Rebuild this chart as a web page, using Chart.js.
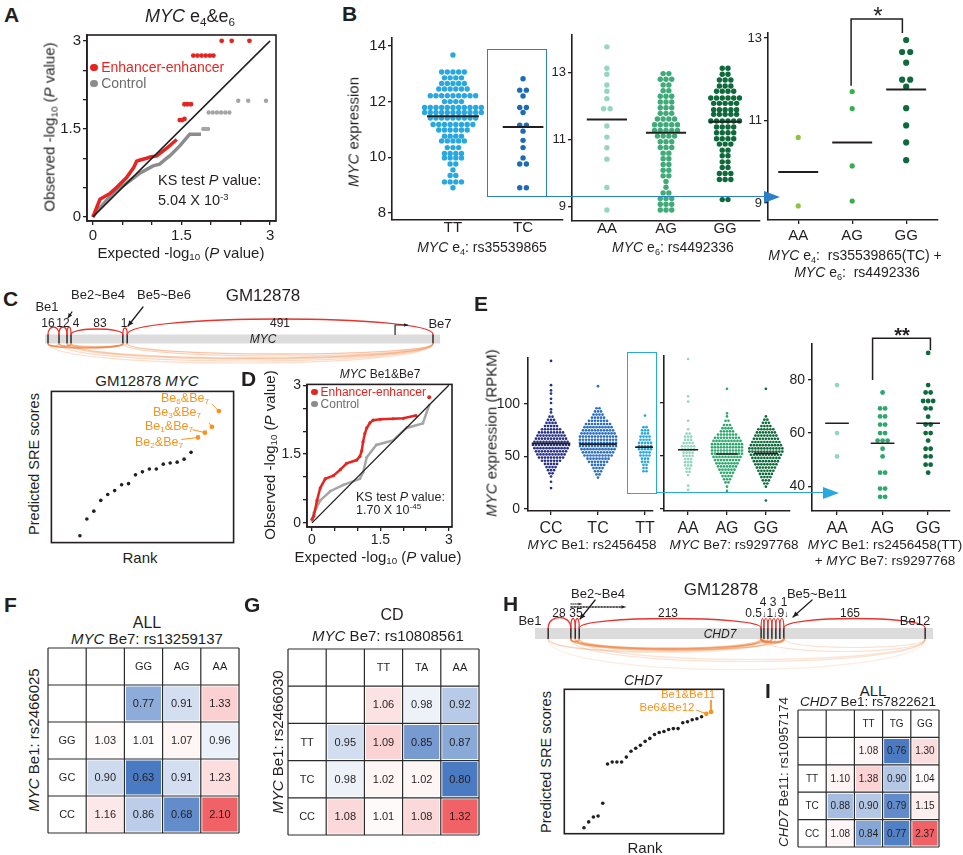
<!DOCTYPE html>
<html lang="en">
<head>
<meta charset="UTF-8">
<title>MYC / CHD7 enhancer pairs</title>
<script src="https://cdn.jsdelivr.net/npm/chart.js"></script>
<style>
  html, body { margin: 0; padding: 0; background: #fff; }
  #fig { position: relative; width: 963px; height: 855px; overflow: hidden; font-family: "Liberation Sans", Arial, Helvetica, sans-serif; color: #231f20; }
  #fig canvas { position: absolute; }
  .t { position: absolute; white-space: nowrap; line-height: 1; }
  .t sub, .t sup { font-size: 0.65em; line-height: 0; }
  .t sub { vertical-align: -0.3em; }
  .t sup { vertical-align: 0.55em; }
  .dot { display: inline-block; width: 0.55em; height: 0.55em; border-radius: 50%; margin-right: 0.25em; vertical-align: 0.05em; }
  .hl { position: absolute; box-sizing: border-box; }
</style>
</head>
<body>
<div id="fig"></div>
<script>
// ---------- data ----------

// A: QQ plot, MYC e4&e6
const qqTicks = [0, 0.5, 1, 1.5, 2, 2.5, 3];
const qqLabels = ['0', '', '', '1.5', '', '', '3'];
const aRedLineX = [0, 0.12, 0.29, 0.40, 0.57, 0.69, 0.74, 0.80, 0.91, 0.97, 1.08, 1.25, 1.42];
const aRedLineY = [0, 0.30, 0.40, 0.50, 0.67, 0.84, 0.95, 0.97, 1.00, 1.02, 1.04, 1.17, 1.32];
const aRedDotX = [1.47, 1.51, 1.55, 1.55, 1.60, 1.66, 1.70, 1.77, 1.84, 1.91, 1.98, 2.04, 2.18, 2.35, 2.65];
const aRedDotY = [1.65, 1.65, 1.67, 1.92, 1.92, 1.92, 2.75, 2.75, 2.75, 2.75, 2.75, 2.75, 3.0, 3.0, 3.0];
const aGrayLineX = [0, 0.07, 0.34, 0.63, 0.80, 1.02, 1.13, 1.25, 1.30, 1.47, 1.64, 1.83];
const aGrayLineY = [0, 0.10, 0.40, 0.62, 0.75, 0.87, 0.90, 1.00, 1.04, 1.21, 1.41, 1.41];
const aGrayDotX = [1.87, 1.91, 1.95, 1.96, 2.03, 2.10, 2.17, 2.24, 2.31, 2.46, 2.63, 2.93];
const aGrayDotY = [1.50, 1.50, 1.50, 1.78, 1.78, 1.78, 1.78, 1.78, 1.78, 1.98, 1.98, 1.98];

// B: MYC expression by genotype (levels of the dot rows and number of dots per row)
const bTTLevels = [13.67, 13.06, 12.85, 12.65, 12.45, 12.21, 12.0, 11.79, 11.61, 11.41, 11.18, 10.98, 10.76, 10.59, 10.35, 10.14, 9.98, 9.76, 9.55, 9.35, 9.12, 8.91];
const bTTCounts = [1, 5, 4, 5, 6, 9, 4, 11, 11, 9, 8, 6, 4, 5, 3, 4, 4, 2, 1, 2, 4, 1];
const bTCLevels = [12.82, 12.41, 12.2, 11.79, 11.61, 11.15, 10.94, 10.61, 10.35, 9.98, 9.76, 8.91];
const bTCCounts = [1, 2, 1, 2, 1, 2, 1, 1, 1, 1, 2, 2];
const bLeftMeans = [11.47, 11.09];
const bAALevels = [13.77, 13.13, 12.95, 12.63, 12.44, 12.22, 11.92, 11.4, 11.07, 10.75, 10.41, 9.56, 8.89];
const bAACounts = [1, 1, 1, 1, 1, 1, 2, 1, 1, 1, 1, 1, 1];
const bAGLevels = [12.97, 12.80, 12.63, 12.46, 12.29, 12.12, 11.95, 11.78, 11.61, 11.44, 11.27, 11.10, 10.93, 10.76, 10.59, 10.42, 10.25, 10.08, 9.91, 9.74, 9.57, 9.40, 9.23, 9.06, 8.89];
const bAGCounts = [2, 3, 2, 2, 3, 3, 3, 3, 4, 5, 5, 4, 3, 3, 2, 2, 2, 2, 2, 1, 1, 2, 3, 3, 3];
const bGGLevels = [13.13, 12.95, 12.78, 12.6, 12.44, 12.24, 12.08, 11.89, 11.75, 11.55, 11.37, 11.2, 11.02, 10.86, 10.68, 10.51, 10.33, 10.16, 9.98, 9.8, 9.2];
const bGGCounts = [2, 2, 3, 3, 4, 6, 5, 5, 5, 6, 4, 4, 4, 3, 2, 2, 2, 2, 3, 3, 2];
const bMidMeans = [11.6, 11.2, 11.53];
const bRAALevels = [10.59, 8.93];
const bRAACounts = [1, 1];
const bRAGLevels = [11.7, 11.29, 9.9, 9.05];
const bRAGCounts = [1, 1, 1, 1];
const bRGGLevels = [12.95, 12.66, 12.4, 11.99, 11.82, 11.3, 10.88, 10.47, 10.04];
const bRGGCounts = [1, 2, 1, 2, 1, 1, 1, 1, 1];
const bRightMeans = [9.75, 10.47, 11.75];

// C: predicted SRE scores, GM12878 MYC (rank order; last four highlighted)
const cScores = [4.5, 15.6, 20.8, 27.9, 31.8, 34.4, 38.3, 39.0, 44.8, 46.8, 48.7, 48.7, 51.9, 52.6, 53.2, 55.2, 59.7, 69.5, 72.7, 76.6, 87.0];
const cHighlight = 4;

// D: QQ plot, MYC Be1&Be7
const dRedX = [0, 0.04, 0.11, 0.18, 0.29, 0.47, 0.62, 0.76, 0.98, 1.05, 1.09, 1.12, 1.16, 1.20, 1.27, 1.34, 1.50, 1.78, 2.0, 2.28];
const dRedY = [0.08, 0.15, 0.49, 0.76, 0.96, 1.03, 1.16, 1.30, 1.37, 1.45, 1.57, 1.77, 1.95, 2.07, 2.18, 2.24, 2.26, 2.27, 2.28, 2.34];
const dRedDotX = [2.57];
const dRedDotY = [2.74];
const dGrayX = [0, 0.04, 0.18, 0.40, 0.69, 1.05, 1.12, 1.20, 1.41, 1.78, 2.07, 2.43, 2.57];
const dGrayY = [0.05, 0.22, 0.49, 0.69, 0.83, 0.96, 1.10, 1.43, 1.70, 1.80, 2.07, 2.17, 2.57];

// E: MYC expression (RPKM) by genotype
const eCCLevels = [141, 118, 113, 110, 105, 101, 95, 92, 88, 85, 82, 79, 76, 73, 70, 67, 64, 61, 58, 55, 52, 49, 46, 43, 40, 37, 34, 31, 26, 20];
const eCCCounts = [1, 1, 1, 1, 1, 1, 1, 1, 2, 3, 4, 5, 7, 9, 10, 11, 12, 13, 12, 11, 10, 9, 7, 5, 4, 3, 2, 1, 1, 1];
const eTCLevels = [117, 96, 93, 90, 87, 84, 81, 78, 75, 72, 69, 66, 63, 60, 57, 54, 51, 48, 45, 42, 39, 36, 33, 30];
const eTCCounts = [1, 2, 3, 4, 5, 7, 9, 10, 11, 12, 13, 13, 13, 13, 12, 11, 10, 8, 7, 5, 4, 3, 2, 1];
const eTTLevels = [89, 78, 75, 72, 69, 66, 63, 60, 57, 54, 51, 48, 45, 42, 39, 36];
const eTTCounts = [1, 2, 3, 3, 4, 4, 5, 5, 5, 4, 4, 3, 3, 2, 2, 2];
const eLeftMeans = [62.5, 61.8, 59];
const eAALevels = [141, 106, 101, 83, 75, 71, 68, 65, 62, 59, 56, 53, 50, 47, 44, 41, 38, 35, 32, 22, 18];
const eAACounts = [1, 1, 1, 1, 1, 2, 3, 3, 4, 5, 5, 4, 4, 3, 3, 3, 2, 2, 1, 1, 1];
const eAGLevels = [113, 90, 87, 83, 79, 76, 73, 70, 67, 64, 61, 58, 55, 52, 49, 46, 43, 40, 37, 34, 31, 28, 25, 21, 17];
const eAGCounts = [1, 1, 1, 2, 3, 4, 5, 7, 9, 10, 11, 11, 11, 11, 10, 9, 8, 7, 6, 5, 4, 3, 2, 1, 1];
const eGGLevels = [113, 87, 84, 81, 78, 75, 72, 69, 66, 63, 60, 57, 54, 51, 48, 45, 42, 39, 36, 33, 30, 27, 24, 21, 8];
const eGGCounts = [1, 1, 2, 3, 4, 6, 7, 8, 9, 10, 11, 12, 12, 11, 10, 9, 8, 7, 6, 5, 4, 3, 2, 1, 1];
const eMidMeans = [55.7, 51.7, 52.3];
const eRAALevels = [78.1, 60, 51.2];
const eRAACounts = [1, 1, 1];
const eRAGLevels = [75.3, 69.3, 66.3, 63.2, 60, 57.2, 54.1, 51.2, 45.1, 39.1, 36];
const eRAGCounts = [1, 2, 2, 2, 2, 3, 1, 1, 2, 2, 2];
const eRGGLevels = [90.2, 78.1, 75.3, 72.1, 69.3, 66.2, 63.2, 60, 57.2, 54.1, 51.2, 48.1, 45.1];
const eRGGCounts = [1, 1, 2, 3, 2, 1, 2, 2, 1, 2, 2, 2, 1];
const eRightMeans = [63.7, 56.2, 63.7];

// F, G, I: genotype-pair ratio tables
const fCols = ['', 'GG', 'AG', 'AA'];
const fRows = ['', 'GG', 'GC', 'CC'];
const fVals = [[null, 0.77, 0.91, 1.33], [1.03, 1.01, 1.07, 0.96], [0.90, 0.63, 0.91, 1.23], [1.16, 0.86, 0.68, 2.10]];
const gCols = ['', 'TT', 'TA', 'AA'];
const gRows = ['', 'TT', 'TC', 'CC'];
const gVals = [[null, 1.06, 0.98, 0.92], [0.95, 1.09, 0.85, 0.87], [0.98, 1.02, 1.02, 0.80], [1.08, 1.01, 1.08, 1.32]];
const iCols = ['', 'TT', 'TG', 'GG'];
const iRows = ['', 'TT', 'TC', 'CC'];
const iVals = [[null, 1.08, 0.76, 1.30], [1.10, 1.38, 0.90, 1.04], [0.88, 0.90, 0.79, 1.15], [1.08, 0.84, 0.77, 2.37]];

// H: predicted SRE scores, CHD7 (last two highlighted)
const hScores = [6, 12, 17, 18, 31, 71, 73, 73, 73, 78, 84, 87, 90, 94, 97, 101, 103, 104, 106, 107, 107, 113, 114, 116, 117, 119, 122, 124];
const hHighlight = 2;

// gene diagrams: schematic exon positions (0-100 along the bar)
const mycExons = [0.76, 3.54, 5.57, 6.58, 19.7, 20.8, 98.2];
const chd7Exons = [3.3, 9.0, 10.1, 11.1, 56.8, 57.5, 58.5, 59.5, 60.5, 61.5, 62.5, 98.0];

// ---------- helpers ----------
const INK = '#231f20', RED = '#e52521', GRAY = '#8c8c8c', GRAY2 = '#a5a5a5', ORANGE = '#f7931e';
Chart.defaults.font.family = '"Liberation Sans", Arial, Helvetica, sans-serif';
Chart.defaults.color = INK;
const fig = document.getElementById('fig');

const zip = (xs, ys) => xs.map((x, i) => ({ x, y: ys[i] }));
function swarm(levels, counts, cx, dx) {
  const out = [];
  levels.forEach((v, i) => {
    const n = counts[i];
    for (let j = 0; j < n; j++) out.push({ x: cx + (j - (n - 1) / 2) * dx, y: v });
  });
  return out;
}
const meanSeg = (cx, half, m) => [{ x: cx - half, y: m }, { x: cx + half, y: m }];
const dots = (data, color, r, extra) => Object.assign({ data, backgroundColor: color, borderColor: color, borderWidth: 0, pointRadius: r, pointHoverRadius: r, showLine: false }, extra);
const seg = (data, color, w, extra) => Object.assign({ data, borderColor: color, backgroundColor: color, borderWidth: w, pointRadius: 0, showLine: true, fill: false, tension: 0 }, extra);

function axis(min, max, vals, labels, size, opt = {}) {
  const tl = opt.tick === undefined ? 4 : opt.tick;
  return {
    type: 'linear', min, max,
    afterBuildTicks: s => { s.ticks = vals.map(v => ({ value: v })); },
    ticks: { autoSkip: false, maxRotation: 0, minRotation: 0, padding: opt.pad === undefined ? 2 : opt.pad, color: INK, font: { size }, callback: (v, i) => labels[i] },
    grid: { display: true, drawOnChartArea: false, drawTicks: tl > 0, tickLength: tl, color: INK, lineWidth: 1.3 },
    border: { display: true, color: INK, width: 1.6 }
  };
}

// area = [left, top, width, height] of the plot area, m = [left, top, right, bottom] margins
function mk(area, m, cfg) {
  const cv = document.createElement('canvas');
  cv.width = area[2] + m[0] + m[2];
  cv.height = area[3] + m[1] + m[3];
  cv.style.left = (area[0] - m[0]) + 'px';
  cv.style.top = (area[1] - m[1]) + 'px';
  fig.appendChild(cv);
  const o = cfg.options;
  o.responsive = false;
  o.animation = false;
  o.devicePixelRatio = 1;
  o.plugins = Object.assign({ legend: { display: false }, tooltip: { enabled: false } }, o.plugins);
  if (o.scales.x.display === false) {
    o.layout = { padding: { left: m[0], top: m[1], right: m[2], bottom: m[3] } };
  } else {
    o.layout = { padding: { left: 0, top: m[1], right: m[2], bottom: 0 } };
    o.scales.x.afterFit = s => { s.height = m[3]; };
    o.scales.y.afterFit = s => { s.width = m[0]; };
  }
  return new Chart(cv, cfg);
}

function T(html, x, y, size, o = {}) {
  const d = document.createElement('div');
  d.className = 't';
  d.innerHTML = html;
  d.style.left = x + 'px';
  d.style.top = y + 'px';
  d.style.fontSize = size + 'px';
  let tf = o.left ? 'translate(0,-50%)' : 'translate(-50%,-50%)';
  if (o.rot) tf += ' rotate(-90deg)';
  d.style.transform = tf;
  if (o.color) d.style.color = o.color;
  if (o.bold) d.style.fontWeight = 'bold';
  fig.appendChild(d);
}
const letter = (s, x, y) => T('<b>' + s + '</b>', x, y, 21, { left: true });

function hl(l, t, w, h, css) {
  const d = document.createElement('div');
  d.className = 'hl';
  d.style.cssText += `left:${l}px;top:${t}px;width:${w}px;height:${h}px;` + css;
  fig.appendChild(d);
}
function connector(x0, x1, y, col) {
  hl(x0, y - 0.75, x1 - x0 - 10, 0, `border-top:1.5px solid ${col};`);
  hl(x1 - 16, y - 6.5, 0, 0, `border-left:16px solid ${col};border-top:6.5px solid transparent;border-bottom:6.5px solid transparent;`);
}

const boxPlugin = {
  id: 'box',
  afterDraw(c) {
    const a = c.chartArea, ctx = c.ctx;
    ctx.save();
    ctx.strokeStyle = INK; ctx.lineWidth = 1.6;
    ctx.strokeRect(a.left, a.top, a.right - a.left, a.bottom - a.top);
    ctx.restore();
  }
};

function head(ctx, x1, y1, x2, y2, s, col) {
  const a = Math.atan2(y2 - y1, x2 - x1);
  ctx.beginPath();
  ctx.moveTo(x2, y2);
  ctx.lineTo(x2 - s * Math.cos(a - 0.45), y2 - s * Math.sin(a - 0.45));
  ctx.lineTo(x2 - s * Math.cos(a + 0.45), y2 - s * Math.sin(a + 0.45));
  ctx.closePath();
  ctx.fillStyle = col; ctx.fill();
}

// loops between enhancers, drawn in data units of the diagram
const arcPlugin = {
  id: 'arcs',
  afterDatasetsDraw(chart, args, o) {
    const ctx = chart.ctx;
    const X = v => chart.scales.x.getPixelForValue(v), Y = v => chart.scales.y.getPixelForValue(v);
    ctx.save();
    ctx.lineCap = 'round';
    const arc = (a, base, col) => {
      const [x1, x2, apex, alpha, w] = a;
      const c = base + (apex - base) * 4 / 3;
      ctx.beginPath();
      ctx.moveTo(X(x1), Y(base));
      ctx.bezierCurveTo(X(x1), Y(c), X(x2), Y(c), X(x2), Y(base));
      ctx.strokeStyle = col(alpha); ctx.lineWidth = w; ctx.stroke();
    };
    o.orange.forEach(a => arc(a, -o.half, al => `rgba(238,125,55,${al})`));
    o.red.forEach(a => arc(a, o.half, () => '#e8322b'));
    o.paths.forEach(p => {
      const col = p.color || INK;
      ctx.beginPath();
      ctx.setLineDash(p.dash || []);
      p.pts.forEach((q, i) => i ? ctx.lineTo(X(q[0]), Y(q[1])) : ctx.moveTo(X(q[0]), Y(q[1])));
      ctx.strokeStyle = col; ctx.lineWidth = p.w || 1.3; ctx.stroke();
      ctx.setLineDash([]);
      if (p.head) {
        const n = p.pts.length;
        head(ctx, X(p.pts[n - 2][0]), Y(p.pts[n - 2][1]), X(p.pts[n - 1][0]), Y(p.pts[n - 1][1]), p.head, col);
      }
    });
    ctx.restore();
  }
};

function diagram(area, xr, yr, exons, half, barW, red, orange, paths) {
  const ex = [];
  exons.forEach(e => { ex.push({ x: e, y: -half }, { x: e, y: half }, { x: e, y: null }); });
  return mk(area, [0, 0, 0, 0], {
    type: 'scatter',
    data: { datasets: [
      seg(ex, INK, 1.4, { spanGaps: false, order: 0 }),
      seg([{ x: 0, y: 0 }, { x: 100, y: 0 }], '#dcdcdc', barW, { order: 1, borderCapStyle: 'butt' })
    ] },
    options: {
      scales: { x: { display: false, type: 'linear', min: xr[0], max: xr[1] }, y: { display: false, min: yr[0], max: yr[1] } },
      plugins: { arcs: { half, red, orange, paths } }
    },
    plugins: [arcPlugin]
  });
}

function shade(v, lo, hi) {
  let t, c;
  if (v < 1) { t = (1 - v) / (1 - lo); c = [74, 122, 194]; }
  else { t = (v - 1) / (hi - 1); c = [240, 98, 102]; }
  t = Math.max(0, Math.min(1, t));
  return 'rgb(' + c.map(k => Math.round(255 - t * (255 - k))).join(',') + ')';
}

const heatPlugin = {
  id: 'heat',
  afterDatasetsDraw(chart, args, o) {
    const ctx = chart.ctx, a = chart.chartArea;
    ctx.save();
    ctx.font = o.size + 'px "Liberation Sans", Arial, sans-serif';
    ctx.fillStyle = INK; ctx.textAlign = 'center'; ctx.textBaseline = 'middle';
    chart.data.datasets.forEach((ds, r) => {
      chart.getDatasetMeta(r).data.forEach((el, c) => {
        const s = o.text[r][c];
        if (s) ctx.fillText(s, el.x, (el.y + el.base) / 2 + 0.5);
      });
    });
    ctx.strokeStyle = '#2b2b2b'; ctx.lineWidth = 1.2;
    const w = (a.right - a.left) / 5, h = (a.bottom - a.top) / 5;
    ctx.beginPath();
    for (let i = 0; i <= 5; i++) {
      const x = a.left + i * w, y = a.top + i * h;
      ctx.moveTo(x, a.top); ctx.lineTo(x, a.bottom);
      ctx.moveTo(a.left, y); ctx.lineTo(a.right, y);
    }
    ctx.stroke();
    ctx.restore();
  }
};

function heat(area, cols, rows, vals, size) {
  const flat = vals.flat().filter(v => v != null);
  const lo = Math.min(...flat), hi = Math.max(...flat);
  const text = [], fill = [];
  for (let r = 0; r < 5; r++) {
    text.push([]); fill.push([]);
    for (let c = 0; c < 5; c++) {
      let s = '', f = '#fff';
      if (r === 0) s = c === 0 ? '' : cols[c - 1];
      else if (c === 0) s = rows[r - 1];
      else {
        const v = vals[r - 1][c - 1];
        if (v != null) { s = v.toFixed(2); f = shade(v, lo, hi); }
      }
      text[r].push(s); fill[r].push(f);
    }
  }
  return mk(area, [1, 1, 1, 1], {
    type: 'bar',
    data: {
      labels: [0, 1, 2, 3, 4],
      datasets: fill.map(row => ({ data: [1, 1, 1, 1, 1], backgroundColor: row, borderColor: '#fff', borderWidth: 1.5, borderSkipped: false, barPercentage: 1, categoryPercentage: 1, inflateAmount: 0 }))
    },
    options: {
      scales: { x: { display: false, stacked: true }, y: { display: false, stacked: true, reverse: true, min: 0, max: 5 } },
      plugins: { heat: { text, size } }
    },
    plugins: [heatPlugin]
  });
}

// ---------- A ----------
mk([87, 32, 189, 189], [42, 8, 8, 24], {
  type: 'scatter',
  data: { datasets: [
    seg([{ x: 0, y: 0 }, { x: 3, y: 3 }], INK, 1.5, { order: 0 }),
    seg(zip(aRedLineX, aRedLineY), RED, 3.5, { order: 1 }),
    dots(zip(aRedDotX, aRedDotY), RED, 2.4, { order: 1 }),
    seg(zip(aGrayLineX, aGrayLineY), GRAY, 3.5, { order: 2 }),
    dots(zip(aGrayDotX, aGrayDotY), GRAY2, 2.2, { order: 2 })
  ] },
  options: { scales: { x: axis(-0.1, 3.1, qqTicks, qqLabels, 15), y: axis(-0.07, 3.1, qqTicks, qqLabels, 15) } },
  plugins: [boxPlugin]
});
letter('A', 4, 14);
T('<i>MYC</i> e<sub>4</sub>&amp;e<sub>6</sub>', 190, 16, 18);
T('Observed -log<sub>10</sub> (<i>P</i> value)', 49, 127, 15, { rot: true });
T('Expected -log<sub>10</sub> (<i>P</i> value)', 181, 252, 15);
T('<span class="dot" style="background:' + RED + '"></span>Enhancer-enhancer', 90, 67, 14, { left: true, color: RED });
T('<span class="dot" style="background:' + GRAY + '"></span>Control', 90, 83, 14, { left: true, color: '#6d6d6d' });
T('KS test <i>P</i> value:', 158, 180, 14.5, { left: true });
T('5.04 X 10<sup>-3</sup>', 158, 200, 14.5, { left: true });

// ---------- B ----------
const B_TT = '#29a8df', B_TC = '#1c6cb5';
const B_AA = '#95d5c2', B_AG = '#3eab78', B_GG = '#0e6a3b';
const R_AA = '#8cc540', R_AG = '#35b04a', R_GG = '#0e6a3b';
mk([392, 35, 171, 185], [42, 8, 6, 26], {
  type: 'scatter',
  data: { datasets: [
    seg(meanSeg(1, 0.37, bLeftMeans[0]), INK, 2, { order: 0 }),
    seg(meanSeg(2, 0.29, bLeftMeans[1]), INK, 2, { order: 0 }),
    dots(swarm(bTTLevels, bTTCounts, 1, 0.081), B_TT, 2.7, { order: 1 }),
    dots(swarm(bTCLevels, bTCCounts, 2, 0.095), B_TC, 2.7, { order: 1 })
  ] },
  options: { scales: {
    x: axis(0.13, 2.57, [1, 2], ['TT', 'TC'], 15, { tick: 0, pad: -1 }),
    y: axis(7.753, 14.28, [8, 10, 12, 14], ['8', '10', '12', '14'], 15)
  } }
});
mk([572, 33, 188, 188], [32, 8, 6, 26], {
  type: 'scatter',
  data: { datasets: [
    seg(meanSeg(1, 0.34, bMidMeans[0]), INK, 2, { order: 0 }),
    seg(meanSeg(2, 0.34, bMidMeans[1]), INK, 2, { order: 0 }),
    seg(meanSeg(3, 0.27, bMidMeans[2]), INK, 2, { order: 0 }),
    dots(swarm(bAALevels, bAACounts, 1, 0.11), B_AA, 2.7, { order: 1 }),
    dots(swarm(bAGLevels, bAGCounts, 2, 0.097), B_AG, 2.7, { order: 1 }),
    dots(swarm(bGGLevels, bGGCounts, 3, 0.097), B_GG, 2.7, { order: 1 })
  ] },
  options: { scales: {
    x: axis(0.41, 3.59, [1, 2, 3], ['AA', 'AG', 'GG'], 15, { tick: 0, pad: -1 }),
    y: axis(8.56, 14.13, [9, 11, 13], ['9', '11', '13'], 13)
  } }
});
mk([768, 33, 170, 187], [32, 18, 8, 26], {
  type: 'scatter',
  data: { datasets: [
    seg([{ x: 1.98, y: 11.84 }, { x: 1.98, y: 13.46 }, { x: 2.93, y: 13.46 }, { x: 2.93, y: 13.12 }], INK, 1.5, { clip: false, order: 0 }),
    seg(meanSeg(1, 0.37, bRightMeans[0]), INK, 2, { order: 0 }),
    seg(meanSeg(2, 0.37, bRightMeans[1]), INK, 2, { order: 0 }),
    seg(meanSeg(3, 0.37, bRightMeans[2]), INK, 2, { order: 0 }),
    dots(swarm(bRAALevels, bRAACounts, 1, 0.15), R_AA, 2.6, { order: 1 }),
    dots(swarm(bRAGLevels, bRAGCounts, 2, 0.15), R_AG, 2.6, { order: 1 }),
    dots(swarm(bRGGLevels, bRGGCounts, 3, 0.15), R_GG, 3.1, { order: 1 })
  ] },
  options: { scales: {
    x: axis(0.44, 3.59, [1, 2, 3], ['AA', 'AG', 'GG'], 15, { pad: 3 }),
    y: axis(8.59, 13.12, [9, 11, 13], ['9', '11', '13'], 13)
  } }
});
letter('B', 342, 13);
T('<i>MYC</i> expression', 353, 132, 15, { rot: true });
T('<i>MYC</i> e<sub>4</sub>: rs35539865', 482, 247, 14);
T('<i>MYC</i> e<sub>6</sub>: rs4492336', 673, 247, 14);
T('<i>MYC</i> e<sub>4</sub>:&nbsp; rs35539865(TC) +', 855, 255, 14);
T('<i>MYC</i> e<sub>6</sub>:&nbsp; rs4492336', 857, 272, 14);
T('*', 878, 16, 24);
hl(487, 49, 60, 148, 'border:1.6px solid #2a7fc8;');
connector(547, 780, 197, '#2a7fc8');

// ---------- C ----------
const cx0 = [0.76, 3.54, 5.57, 6.58];
diagram([40, 285, 425, 85], [-1.27, 106.3], [-31, 54], mycExons, 4.5, 9,
  [[mycExons[0], mycExons[1], 12, 1, 1.3], [mycExons[1], mycExons[2], 12, 1, 1.3], [mycExons[2], mycExons[3], 12, 1, 1.3],
   [mycExons[3], mycExons[4], 10, 1, 1.3], [mycExons[4], mycExons[5], 11, 1, 1.3], [mycExons[5], mycExons[6], 20, 1, 1.3]],
  [[cx0[0], cx0[1], -7, 0.6, 1.2], [cx0[0], cx0[3], -8, 0.5, 1.2], [cx0[1], cx0[3], -7, 0.5, 1.2],
   [cx0[0], mycExons[4], -9, 0.7, 1.5], [cx0[1], mycExons[4], -8.5, 0.5, 1.2], [cx0[2], mycExons[4], -8, 0.5, 1.2], [cx0[3], mycExons[5], -7.5, 0.4, 1.1],
   [cx0[0], mycExons[6], -24, 0.25, 1.2], [cx0[1], mycExons[6], -22, 0.3, 1.2], [cx0[2], mycExons[6], -20, 0.35, 1.4],
   [cx0[3], mycExons[6], -19, 0.4, 1.4], [mycExons[4], mycExons[6], -17, 0.35, 1.2], [mycExons[5], mycExons[6], -15, 0.45, 1.5]],
  [{ pts: [[6.8, 27], [5.8, 21]], head: 5 }, { pts: [[24.8, 32], [21.0, 13]], head: 6 },
   { pts: [[88.6, 4.5], [88.6, 14], [91.8, 14]], head: 4, w: 1.2 }]);
letter('C', 3, 298);
T('GM12878', 263, 295, 17);
T('Be1', 47, 306, 13);
T('Be2~Be4', 98, 294, 13);
T('Be5~Be6', 164, 294, 13);
T('16', 48, 323, 12); T('12', 63, 323, 12); T('4', 76, 323, 12); T('83', 100, 323, 12); T('1', 124, 323, 12); T('491', 280, 323, 12);
T('<i>MYC</i>', 263, 339, 12);
T('Be7', 440, 323, 13);

mk([50, 390, 185, 154], [1, 1, 1, 1], {
  type: 'scatter',
  data: { datasets: [
    seg([{ x: 20.0, y: 91.6 }, { x: 21, y: 87.0 }], ORANGE, 1),
    seg([{ x: 19.6, y: 79.2 }, { x: 20, y: 76.6 }], ORANGE, 1),
    seg([{ x: 17.2, y: 74.7 }, { x: 19, y: 72.7 }], ORANGE, 1),
    seg([{ x: 15.6, y: 68.2 }, { x: 18, y: 69.5 }], ORANGE, 1),
    dots(cScores.slice(0, cScores.length - cHighlight).map((s, i) => ({ x: i + 1, y: s })), INK, 1.8),
    dots(cScores.slice(cScores.length - cHighlight).map((s, i) => ({ x: cScores.length - cHighlight + i + 1, y: s })), ORANGE, 2.4)
  ] },
  options: { scales: { x: { display: false, type: 'linear', min: -3.11, max: 23.13 }, y: { display: false, min: 0, max: 100 } } },
  plugins: [boxPlugin]
});
T('GM12878 <i>MYC</i>', 147, 380, 15);
T('Rank', 140, 557, 15);
T('Predicted SRE scores', 34, 464, 14.5, { rot: true });
T('Be<sub>6</sub>&amp;Be<sub>7</sub>', 185, 398, 12.5, { color: ORANGE });
T('Be<sub>3</sub>&amp;Be<sub>7</sub>', 177, 412, 12.5, { color: ORANGE });
T('Be<sub>1</sub>&amp;Be<sub>7</sub>', 169, 426, 12.5, { color: ORANGE });
T('Be<sub>2</sub>&amp;Be<sub>7</sub>', 159, 442, 12.5, { color: ORANGE });

// ---------- D ----------
mk([307, 382, 145, 145], [42, 8, 8, 24], {
  type: 'scatter',
  data: { datasets: [
    seg([{ x: 0, y: 0 }, { x: 3, y: 3 }], INK, 1.3, { order: 0 }),
    seg(zip(dRedX, dRedY), RED, 2.5, { order: 1, pointRadius: 1.6, pointBackgroundColor: RED, pointBorderWidth: 0 }),
    dots(zip(dRedDotX, dRedDotY), RED, 2, { order: 1 }),
    seg(zip(dGrayX, dGrayY), GRAY2, 2.5, { order: 2, pointRadius: 1.4, pointBackgroundColor: GRAY2, pointBorderWidth: 0 })
  ] },
  options: { scales: { x: axis(-0.11, 3.07, qqTicks, qqLabels, 14, { pad: 1 }), y: axis(-0.09, 3.02, qqTicks, qqLabels, 14) } },
  plugins: [boxPlugin]
});
letter('D', 241, 378);
T('<i>MYC</i> Be1&amp;Be7', 380, 374, 12);
T('Observed -log<sub>10</sub> (<i>P</i> value)', 269, 455, 15, { rot: true });
T('Expected -log<sub>10</sub> (<i>P</i> value)', 378, 556, 15);
T('<span class="dot" style="background:' + RED + '"></span>Enhancer-enhancer', 311, 392, 12, { left: true, color: RED });
T('<span class="dot" style="background:' + GRAY + '"></span>Control', 311, 404, 12, { left: true, color: '#6d6d6d' });
T('KS test <i>P</i> value:', 356, 497, 12.5, { left: true });
T('1.70 X 10<sup>-45</sup>', 356, 510, 12.5, { left: true });

// ---------- E ----------
const E_CC = '#28318a', E_TC = '#2c6ebf', E_TT = '#29a8df', E_AA = '#95d5c2', E_AG = '#2ea86d', E_GG = '#0e6a3b';
mk([528, 353, 125, 158], [42, 8, 8, 30], {
  type: 'scatter',
  data: { datasets: [
    seg(meanSeg(1, 0.41, eLeftMeans[0]), INK, 1.6, { order: 0 }),
    seg(meanSeg(2, 0.40, eLeftMeans[1]), INK, 1.6, { order: 0 }),
    seg(meanSeg(3, 0.21, eLeftMeans[2]), INK, 1.6, { order: 0 }),
    dots(swarm(eCCLevels, eCCCounts, 1, 0.064), E_CC, 1.35, { order: 1 }),
    dots(swarm(eTCLevels, eTCCounts, 2, 0.064), E_TC, 1.35, { order: 1 }),
    dots(swarm(eTTLevels, eTTCounts, 3, 0.064), E_TT, 1.35, { order: 1 })
  ] },
  options: { scales: {
    x: axis(0.51, 3.17, [1, 2, 3], ['CC', 'TC', 'TT'], 16, { pad: 4 }),
    y: axis(-1.85, 144.4, [0, 50, 100], ['0', '50', '100'], 14, { pad: 4 })
  } }
});
mk([664, 353, 126, 158], [10, 8, 6, 30], {
  type: 'scatter',
  data: { datasets: [
    seg(meanSeg(1, 0.26, eMidMeans[0]), INK, 1.6, { order: 0 }),
    seg(meanSeg(2, 0.28, eMidMeans[1]), INK, 1.6, { order: 0 }),
    seg(meanSeg(3, 0.31, eMidMeans[2]), INK, 1.6, { order: 0 }),
    dots(swarm(eAALevels, eAACounts, 1, 0.077), E_AA, 1.35, { order: 1 }),
    dots(swarm(eAGLevels, eAGCounts, 2, 0.077), E_AG, 1.35, { order: 1 }),
    dots(swarm(eGGLevels, eGGCounts, 3, 0.077), E_GG, 1.35, { order: 1 })
  ] },
  options: { scales: {
    x: axis(0.38, 3.62, [1, 2, 3], ['AA', 'AG', 'GG'], 16, { pad: 4 }),
    y: axis(-1.85, 144.4, [0, 50, 100], ['', '', ''], 14)
  } }
});
mk([812, 342, 138, 169], [38, 10, 8, 30], {
  type: 'scatter',
  data: { datasets: [
    seg([{ x: 1.78, y: 80 }, { x: 1.78, y: 95.7 }, { x: 3.05, y: 95.7 }, { x: 3.05, y: 91.2 }], INK, 1.5, { clip: false, order: 0 }),
    seg(meanSeg(1, 0.26, eRightMeans[0]), INK, 1.6, { order: 0 }),
    seg(meanSeg(2, 0.26, eRightMeans[1]), INK, 1.6, { order: 0 }),
    seg(meanSeg(3, 0.26, eRightMeans[2]), INK, 1.6, { order: 0 }),
    dots(swarm(eRAALevels, eRAACounts, 1, 0.11), E_AA, 2.4, { order: 1 }),
    dots(swarm(eRAGLevels, eRAGCounts, 2, 0.11), E_AG, 2.4, { order: 1 }),
    dots(swarm(eRGGLevels, eRGGCounts, 3, 0.11), E_GG, 2.4, { order: 1 })
  ] },
  options: { scales: {
    x: axis(0.45, 3.48, [1, 2, 3], ['AA', 'AG', 'GG'], 16, { pad: 4 }),
    y: axis(30.65, 93.8, [40, 60, 80], ['40', '60', '80'], 14, { pad: 3 })
  } }
});
letter('E', 474, 303);
T('<i>MYC</i> expression (RPKM)', 491, 433, 15, { rot: true });
T('<i>MYC</i> Be1: rs2456458', 592, 545, 13.5);
T('<i>MYC</i> Be7: rs9297768', 734, 545, 13.5);
T('<i>MYC</i> Be1: rs2456458(TT)', 885, 545, 13.5);
T('+ <i>MYC</i> Be7: rs9297768', 885, 561, 13.5);
T('<b>**</b>', 902, 335, 20);
hl(627, 352, 30, 142, 'border:1.6px solid #29a8df;');
connector(657, 839, 493, '#29a8df');

// ---------- F, G ----------
heat([48, 648, 191, 185], fCols, fRows, fVals, 11);
letter('F', 4, 604);
T('ALL', 147, 623, 16);
T('<i>MYC</i> Be7: rs13259137', 147, 638, 15);
T('<i>MYC</i> Be1: rs2466025', 33, 740, 15, { rot: true });

heat([288, 649, 191, 186], gCols, gRows, gVals, 11);
letter('G', 244, 604);
T('CD', 392, 615, 16);
T('<i>MYC</i> Be7: rs10808561', 388, 635, 15);
T('<i>MYC</i> Be1: rs2466030', 277, 742, 15, { rot: true });

// ---------- H ----------
const hc = chd7Exons;
diagram([500, 585, 455, 90], [-8.8, 105.5], [-41.5, 48.5], chd7Exons, 5.5, 11,
  [[hc[0], hc[1], 16, 1, 1.3], [hc[1], hc[2], 15, 1, 1.3], [hc[2], hc[3], 15, 1, 1.3], [hc[3], hc[4], 15, 1, 1.3],
   [hc[4], hc[5], 15, 1, 1.2], [hc[5], hc[6], 15, 1, 1.2], [hc[6], hc[7], 15, 1, 1.2], [hc[7], hc[8], 15, 1, 1.2],
   [hc[8], hc[9], 15, 1, 1.2], [hc[9], hc[10], 15, 1, 1.2], [hc[10], hc[11], 15, 1, 1.3]],
  [[hc[1], hc[3], -8, 0.7, 1.5], [hc[4], hc[10], -9, 0.8, 2.3], [hc[4], hc[7], -8, 0.7, 1.8],
   [hc[1], hc[4], -15, 0.5, 2], [hc[2], hc[5], -16, 0.45, 1.8], [hc[3], hc[6], -15, 0.4, 1.4], [hc[1], hc[8], -17, 0.35, 1.4], [hc[2], hc[10], -16, 0.3, 1.2],
   [hc[0], hc[4], -18, 0.25, 1.2], [hc[0], hc[7], -19, 0.2, 1.2],
   [hc[1], hc[11], -28, 0.22, 1.2], [hc[3], hc[11], -26, 0.22, 1.2], [hc[0], hc[11], -36, 0.15, 1.2],
   [hc[4], hc[11], -18, 0.22, 1.2], [hc[10], hc[11], -14, 0.22, 1.2]],
  [{ pts: [[15.1, 33.5], [11.3, 14.5]], head: 6 }, { pts: [[69.6, 33.5], [64.8, 16.5]], head: 6 },
   { pts: [[9.0, 26.5], [22.6, 26.5]], head: 4, dash: [1.5, 1.5], w: 1.3 },
   { pts: [[9.0, 29.5], [11.6, 29.5]], head: 3, dash: [1, 1], w: 1 }]);
letter('H', 503, 603);
T('GM12878', 721, 589, 17);
T('Be2~Be4', 598, 593, 13);
T('Be5~Be11', 817, 593, 13);
T('4', 763, 602, 12); T('3', 773, 602, 12); T('1', 784, 602, 12);
T('0.5<span style="font-size:9px">↓</span>1<span style="font-size:9px">↓</span>9<span style="font-size:9px">↓</span>', 767, 613, 12);
T('28', 559, 613, 12); T('35', 576, 613, 12); T('213', 668, 613, 12); T('165', 850, 613, 12);
T('Be1', 530, 620, 13); T('Be12', 915, 620, 13);
T('<i>CHD7</i>', 720, 634, 12);

mk([563, 688, 162, 147], [1, 1, 1, 1], {
  type: 'scatter',
  data: { datasets: [
    seg([{ x: 24.8, y: 126 }, { x: 27, y: 122 }], ORANGE, 1),
    seg([{ x: 28, y: 136 }, { x: 28, y: 126 }], ORANGE, 1),
    dots(hScores.slice(0, hScores.length - hHighlight).map((s, i) => ({ x: i + 1, y: s })), INK, 1.8),
    dots(hScores.slice(hScores.length - hHighlight).map((s, i) => ({ x: hScores.length - hHighlight + i + 1, y: s })), ORANGE, 2.3)
  ] },
  options: { scales: { x: { display: false, type: 'linear', min: -3.18, max: 30.7 }, y: { display: false, min: 0, max: 147 } } },
  plugins: [boxPlugin]
});
T('<i>CHD7</i>', 643, 680, 14);
T('Rank', 645, 847, 15);
T('Predicted SRE scores', 546, 762, 14.5, { rot: true });
T('Be1&amp;Be11', 688, 695, 11.5, { color: ORANGE });
T('Be6&amp;Be12', 667, 708, 11.5, { color: ORANGE });

// ---------- I ----------
heat([798, 710, 141, 137], iCols, iRows, iVals, 10);
letter('I', 765, 690);
T('ALL', 873, 690, 15);
T('<i>CHD7</i> Be1: rs7822621', 868, 702, 13.5);
T('<i>CHD7</i> Be11: rs10957174', 784, 772, 13.5, { rot: true });
</script>
</body>
</html>
